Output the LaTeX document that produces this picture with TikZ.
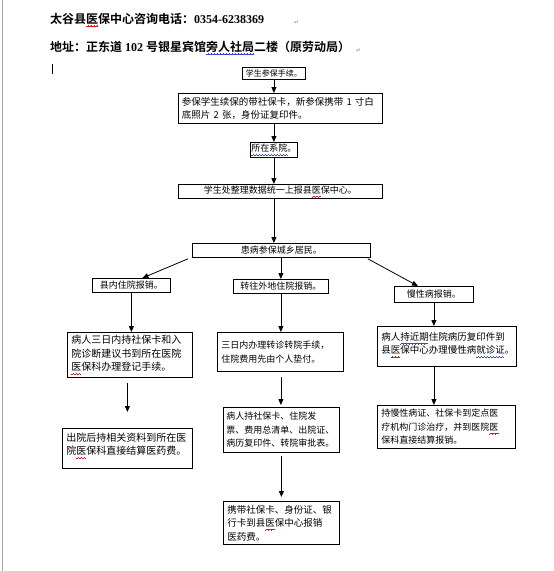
\documentclass[tikz,border=0pt]{standalone}
\usepackage{fontspec}
\usetikzlibrary{arrows.meta,calc}
\newfontfamily\cjk{Noto Sans CJK SC}
\newfontfamily\cjkb{Noto Sans CJK SC Bold}
\newfontfamily\tnrb{Liberation Serif Bold}
\newfontfamily\djv{DejaVu Sans}
\definecolor{wavered}{RGB}{225,20,20}
\definecolor{waveblue}{RGB}{50,70,230}
\newcommand\wseg{\rule[-4pt]{0.75pt}{0.6pt}\rule[-3.5pt]{0.75pt}{0.6pt}\rule[-3pt]{0.75pt}{0.6pt}\rule[-3.5pt]{0.75pt}{0.6pt}}
\newcommand\wv[2]{\setbox0\hbox{#2}\leavevmode\rlap{\color{#1}\leaders\hbox{\wseg}\hskip\wd0}\box0}
\newcommand\rw[1]{\wv{wavered}{#1}}
\newcommand\bw[1]{\wv{waveblue}{#1}}
\newcommand\bxf{\cjk\fontsize{9}{13.5}\selectfont}
\newcommand\bxl{\cjk\fontsize{9.5}{13.5}\selectfont}
\newcommand\bxx{\cjk\fontsize{10}{13.5}\selectfont}
\newcommand\ttf{\cjkb\fontsize{12}{14}\selectfont}
\newcommand\lift[1]{\rule[-#1]{0pt}{1pt}}
\begin{document}
\begin{tikzpicture}[x=1pt,y=-1pt,
  box/.style={draw, line width=0.8pt, anchor=north west, inner xsep=4pt, inner ysep=0pt, font=\bxf, align=left},
  cbox/.style={box, align=center},
  arr/.style={line width=0.8pt, -{Triangle[width=5pt,length=6pt]}},
  ttl/.style={anchor=base west, inner sep=0pt, font=\ttf},
  retmark/.style={anchor=base west, inner sep=0pt, font=\djv\fontsize{6}{7}\selectfont, text=black!45},
]
\fill[white] (0,0) rectangle (554,571);
\useasboundingbox (0,0) rectangle (554,571);
\draw[black!35, line width=1.2pt] (2.5,0) -- (2.5,571);

% titles
\node[ttl] (t1) at (50,23) {太谷县\rw{医}保中心咨询电话：{\tnrb 0354-6238369}};
\node[retmark] (r1) at (294,24) {↵};
\node[ttl] (t2) at (50,51) {地址：正东道{\tnrb\ 102 }号银星宾馆\bw{旁人社局}二楼（原劳动局）};
\node[retmark] (r2) at (356,52) {↵};
\draw[line width=0.7pt] (52,64) -- (52,74);

% boxes
\node[cbox, font=\cjk\fontsize{8}{10}\selectfont, inner xsep=2pt, text width=59pt, minimum height=12pt] (b1) at (242,67) {学生参保手续。};
\node[box, font=\bxl, inner xsep=3.5pt, text width=197pt, minimum height=30pt] (b2) at (178,93) {参保学生续保的带社保卡，新参保携带 1 寸白\\底照片 2 张，身份证复印件。};
\node[cbox, inner xsep=1pt, text width=45pt, minimum height=15pt] (b3) at (250,142) {\bw{所在系院}。};
\node[cbox, text width=196pt, minimum height=14pt] (b4) at (178,184) {学生处整理数据统一上报县\rw{医}保中心。};
\node[cbox, text width=170pt, minimum height=14pt] (b5) at (192,243) {患病参保城乡居民。};
\node[cbox, text width=70pt, minimum height=14pt] (b6) at (92,278) {县内住院报销。};
\node[cbox, text width=87pt, minimum height=14pt] (b7) at (233,279) {转往外地住院报销。};
\node[cbox, text width=71pt, minimum height=16pt] (b8) at (394,286) {慢性病报销。};

\node[box, font=\bxx, text width=117pt, minimum height=45pt] (b9) at (67,332) {病人三日内持社保卡和入\\院诊断建议书到所在医院\\\rw{医}保科办理登记手续。};
\node[box, text width=118pt, minimum height=39pt] (b10) at (217,332) {三日内办理转诊转院手续，\\住院费用先由个人垫付。};
\node[box, font=\bxl, text width=131pt, minimum height=40pt] (b11) at (377,326) {病人\bw{持近期}住院病历复印件到\\县\rw{医}保中心办理慢性病\bw{就诊证}。\lift{7pt}};

\node[box, font=\bxx, text width=122pt, minimum height=40pt] (b12) at (62,428) {出院后持相关资料到所在医\\院\rw{医}保科直接结算医药费。\lift{9pt}};
\node[box, inner xsep=3pt, text width=110pt, minimum height=45pt] (b13) at (223,407) {病人持社保卡、住院发\\票、费用总清单、出院证、\\病历复印件、转院审批表。};
\node[box, text width=130pt, minimum height=43pt] (b14) at (377,405) {持慢性病证、社保卡到定点医\\疗机构门诊治疗，并到医院\rw{医}\\保科直接结算报销。};

\node[box, font=\bxl, text width=108pt, minimum height=43pt] (b15) at (223,501) {携带社保卡、身份证、银\\行卡到县\rw{医}保中心报销\\医药费。};

% connectors
\draw[arr] (b1.south) -- (b1.south |- b2.north);
\draw[arr] (b3.north |- b2.south) -- (b3.north);
\draw[arr] (b3.south) -- (b3.south |- b4.north);
\draw[arr] (b3.south |- b4.south) -- (b3.south |- b5.north);
\coordinate (l5) at ($(b5.south west)+(-4,1)$);
\coordinate (l6) at ($(b6.north)+(11,0)$);
\draw[arr] (l5) -- (l6);
\draw[arr] (b7.north |- b5.south) -- (b7.north);
\coordinate (r5) at ($(b5.south east)+(-3,1)$);
\coordinate (r8) at ($(b8.north)+(-16,0)$);
\draw[arr] (r5) -- (r8);
\draw[arr] (b6.south) -- (b6.south |- b9.north);
\draw[arr] (b7.south) -- (b7.south |- b10.north);
\draw[arr] (b8.south) -- (b8.south |- b11.north);
\coordinate (c9) at ($(b9.south)+(-2.5,0)$);
\draw[arr, shorten <=5pt, shorten >=16pt] (c9) -- (c9 |- b12.north);
\draw[arr, shorten <=5pt, shorten >=2pt] (b7.south |- b10.south) -- (b7.south |- b13.north);
\draw[arr] (b8.south |- b11.south) -- (b8.south |- b14.north);
\draw[arr, shorten <=3pt, shorten >=4pt] (b13.south) -- (b13.south |- b15.north);
\end{tikzpicture}
\end{document}
